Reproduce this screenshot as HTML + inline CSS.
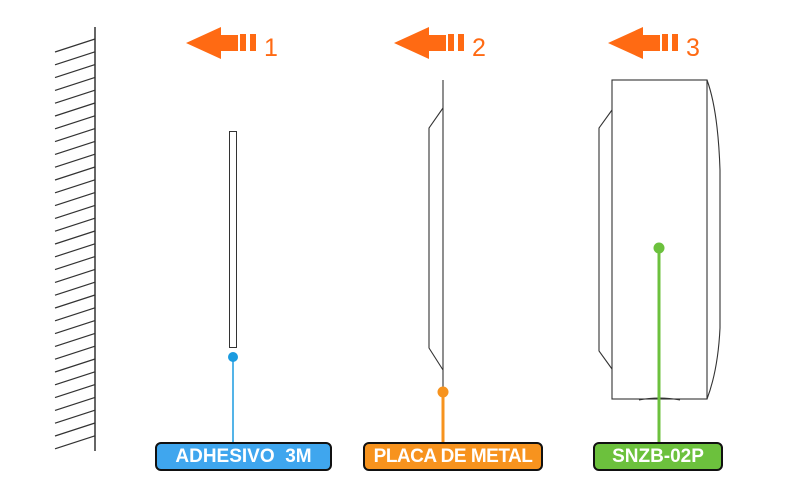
<!DOCTYPE html>
<html><head><meta charset="utf-8"><style>
html,body{margin:0;padding:0;background:#fff;width:800px;height:494px;overflow:hidden}
.lbl{position:absolute;height:25px;border:2.5px solid #111;border-radius:6px;color:#fff;font:bold 19px "Liberation Sans",sans-serif;text-align:center;line-height:25px;white-space:nowrap;overflow:hidden}
</style></head><body>
<svg width="800" height="494" style="position:absolute;left:0;top:0" xmlns="http://www.w3.org/2000/svg">
<g stroke="#333" stroke-width="1.2" fill="none" id="hatch">
<line x1="95" y1="27" x2="95" y2="451" stroke-width="1.5"/>
</g>
<g fill="#ff6a13">
<polygon points="186,43 221,27 221,35 238,35 238,51 221,51 221,59"/>
<rect x="240" y="34" width="6" height="17"/><rect x="250" y="34" width="6" height="17"/>
<polygon points="394,43 429,27 429,35 446,35 446,51 429,51 429,59"/>
<rect x="448" y="34" width="6" height="17"/><rect x="458" y="34" width="6" height="17"/>
<polygon points="608,43 643,27 643,35 660,35 660,51 643,51 643,59"/>
<rect x="662" y="34" width="6" height="17"/><rect x="672" y="34" width="6" height="17"/>
</g>
<g fill="#ff6a13" font-family="Liberation Sans, sans-serif" font-size="25">
<text x="264" y="56">1</text><text x="472" y="56">2</text><text x="686" y="56">3</text>
</g>
<rect x="229.5" y="131.5" width="7" height="216" fill="#fff" stroke="#333" stroke-width="1"/>
<line x1="233" y1="357" x2="233" y2="444" stroke="#1a9be0" stroke-width="1.5"/>
<circle cx="233" cy="357" r="5" fill="#1a9be0"/>
<g stroke="#333" stroke-width="1.1" fill="none">
<line x1="443" y1="80" x2="443" y2="392"/>
<polyline points="443,108 429,128 429,348 443,370"/>
</g>
<line x1="443" y1="392" x2="443" y2="444" stroke="#f7931e" stroke-width="3"/>
<circle cx="443" cy="392" r="5.5" fill="#f7931e"/>
<g stroke="#333" stroke-width="1.1" fill="none">
<rect x="612" y="80" width="95" height="319"/>
<polyline points="612,110 599,128 599,351 612,369"/>
<path d="M707,80 Q718,110 720,170 L720,328 Q718,370 707,399"/>
<path d="M639,400 Q659,396 680,400"/>
</g>
<line x1="659" y1="248" x2="659" y2="444" stroke="#6cc13d" stroke-width="3"/>
<circle cx="659" cy="248" r="5.5" fill="#6cc13d"/>
</svg>
<div class="lbl" style="left:155px;top:442px;width:173px;background:#3fa6ee">ADHESIVO&nbsp; 3M</div>
<div class="lbl" style="left:363px;top:442px;width:176px;background:#f7931e;letter-spacing:-0.5px">PLACA DE METAL</div>
<div class="lbl" style="left:593px;top:442px;width:126px;background:#6cc13d">SNZB-02P</div>
<script>
var g=document.getElementById('hatch');
for(var i=0;i<32;i++){var y=39+i*12.8;var l=document.createElementNS('http://www.w3.org/2000/svg','line');
l.setAttribute('x1',55);l.setAttribute('y1',y+13);l.setAttribute('x2',95);l.setAttribute('y2',y);g.appendChild(l);}
</script>
</body></html>
